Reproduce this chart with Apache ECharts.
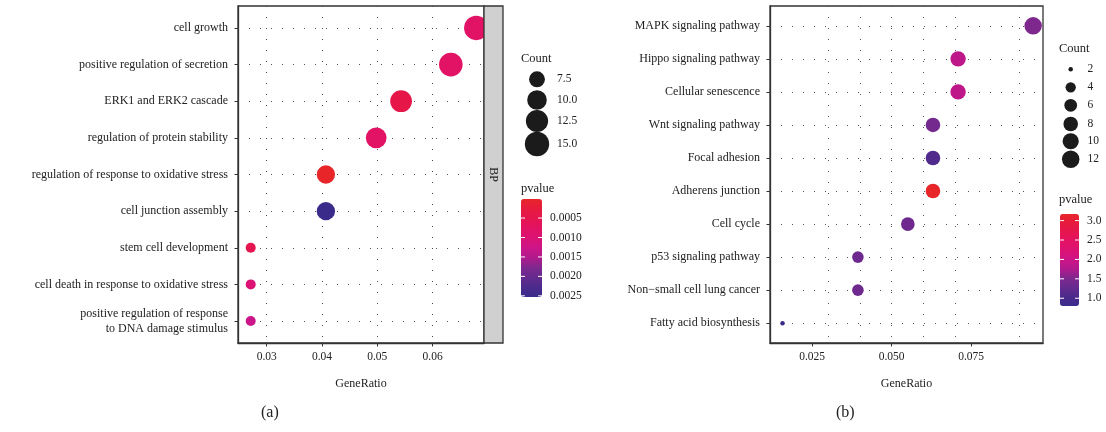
<!DOCTYPE html>
<html>
<head>
<meta charset="utf-8">
<script src="https://cdn.jsdelivr.net/npm/echarts@6/dist/echarts.min.js"></script>
<style>html,body{margin:0;padding:0;background:#fff}#c{width:1106px;height:432px}</style>
</head>
<body>
<div id="c"></div>
<script>
// ---------- data ----------
const leftTerms = ['cell growth','positive regulation of secretion','ERK1 and ERK2 cascade','regulation of protein stability','regulation of response to oxidative stress','cell junction assembly','stem cell development','cell death in response to oxidative stress','positive regulation of response\nto DNA damage stimulus'];
const leftRatio = [0.0679,0.0633,0.0543,0.0498,0.0407,0.0407,0.0271,0.0271,0.0271];
const leftCount = [15,14,12,11,9,9,6,6,6];
const leftP = [0.00077,0.00077,0.0004,0.00077,0.00001,0.00253,0.0005,0.0010,0.00127];

const rightTerms = ['MAPK signaling pathway','Hippo signaling pathway','Cellular senescence','Wnt signaling pathway','Focal adhesion','Adherens junction','Cell cycle','p53 signaling pathway','Non\u2212small cell lung cancer','Fatty acid biosynthesis'];
const rightRatio = [0.0945,0.0709,0.0709,0.0630,0.0630,0.0630,0.0551,0.0394,0.0394,0.0157];
const rightCount = [12,9,9,8,8,8,7,5,5,2];
const rightP = [1.51,1.87,1.87,1.42,1.08,3.17,1.37,1.35,1.35,0.8];

const leftXMajor = [0.03,0.04,0.05,0.06];
const leftXMinor = [0.025,0.035,0.045,0.055,0.065];
const rightXMajor = [0.025,0.05,0.075];
const rightXMinor = [0.0125,0.0375,0.0625,0.0875];
const leftSizeBreaks = [7.5,10,12.5,15];
const leftSizeLabels = ['7.5','10.0','12.5','15.0'];
const rightSizeBreaks = [2,4,6,8,10,12];
const rightSizeLabels = ['2','4','6','8','10','12'];
const leftPBreaks = [0.0005,0.0010,0.0015,0.0020,0.0025];
const rightPBreaks = [3.0,2.5,2.0,1.5,1.0];

// ---------- styling ----------
const FONT = 'Liberation Serif';
const TXT = '#222';
const gradRedToBlue = ['#E8262A','#E71A3E','#E51550','#E21264','#DB1275','#CC1588','#B01A8C','#7E288E','#652A8E','#4B2B8C','#3A2B8A'];

const L = {left:238, top:6, width:246, height:337};
const R = {left:770, top:6, width:273, height:337};

function sizeScale(cmin, cmax, r0, r1){
  return v => r0 + (r1 - r0) * Math.sqrt(Math.max(0,(v - cmin)) / (cmax - cmin));
}
const leftSize = sizeScale(6, 15, 10, 24.4);
const rightSize = sizeScale(2, 12, 4.5, 17.5);

const leftPMin = Math.min(...leftP), leftPMax = Math.max(...leftP);
const rightPMin = Math.min(...rightP), rightPMax = Math.max(...rightP);

const dotLine = {color:'#444', width:1, type:[1,10], opacity:0.9};

function gridLines(xMajor, xMinor, n){
  const d = [];
  xMajor.concat(xMinor).forEach(v => d.push({xAxis:v}));
  for (let i=1;i<=n;i++) d.push({yAxis:i});
  return d;
}

const xAxisCommon = {
  type:'value',
  axisLine:{show:true, lineStyle:{color:'#333', width:1.3}},
  axisTick:{show:true, length:3.5, lineStyle:{color:'#333'}},
  splitLine:{show:false},
  nameLocation:'middle', nameGap:35,
  nameTextStyle:{fontFamily:FONT, fontSize:12, color:TXT}
};
const yAxisCommon = {
  type:'value', inverse:true,
  axisLine:{show:true, lineStyle:{color:'#333', width:1.3}},
  axisTick:{show:true, length:3.5, lineStyle:{color:'#333'}},
  splitLine:{show:false}
};

const series = [];
series.push({
  type:'scatter', name:'leftPts', xAxisIndex:0, yAxisIndex:0, z:5,
  data: leftTerms.map((t,i)=>[leftRatio[i], i+1, leftCount[i], leftP[i]]),
  symbolSize: d => leftSize(d[2]),
  itemStyle:{opacity:1},
  encode:{x:0,y:1}
});
series.push({
  type:'scatter', name:'rightPts', xAxisIndex:1, yAxisIndex:1, z:5,
  data: rightTerms.map((t,i)=>[rightRatio[i], i+1, rightCount[i], rightP[i]]),
  symbolSize: d => rightSize(d[2]),
  itemStyle:{opacity:1},
  encode:{x:0,y:1}
});
series.push({
  type:'line', name:'gridL', xAxisIndex:0, yAxisIndex:0, data:[], z:1, silent:true,
  markLine:{silent:true, symbol:['none','none'], label:{show:false}, lineStyle:dotLine, animation:false,
    data: gridLines(leftXMajor, leftXMinor, leftTerms.length)}
});
series.push({
  type:'line', name:'gridR', xAxisIndex:1, yAxisIndex:1, data:[], z:1, silent:true,
  markLine:{silent:true, symbol:['none','none'], label:{show:false}, lineStyle:dotLine, animation:false,
    data: gridLines(rightXMajor, rightXMinor, rightTerms.length)}
});

const graphics = [];
// size legends (one legend per break; labels as text at fixed column)
const legends = [];
function addSizeLegends(breaks, labels, sizeFn, cx, cys, textX, axisIdx){
  breaks.forEach((b,i)=>{
    const nm = 'size' + axisIdx + '_' + i;
    const d = sizeFn(b);
    series.push({type:'scatter', name:nm, xAxisIndex:axisIdx, yAxisIndex:axisIdx, data:[], itemStyle:{color:'#1b1b1b', opacity:1}});
    legends.push({
      show:true, selectedMode:false, orient:'vertical', padding:0,
      left: cx - d/2, top: cys[i] - d/2,
      itemWidth: d, itemHeight: d, itemGap:0,
      data:[{name:nm, icon:'circle'}],
      formatter: () => '',
      textStyle:{fontSize:1}
    });
    graphics.push({type:'text', silent:true, x:textX, y:cys[i],
      style:{text:labels[i], fontFamily:FONT, fontSize:11.5, fill:TXT, verticalAlign:'middle', align:'left'}});
  });
}
addSizeLegends(leftSizeBreaks, leftSizeLabels, leftSize, 537, [79.3,100,121,144], 557, 0);
addSizeLegends(rightSizeBreaks, rightSizeLabels, rightSize, 1070.7, [69.3,87.3,105.3,124,141.3,159.3], 1087.5, 1);

// color bars
const LB = {left:521, top:199, w:21, h:98};
const RB = {left:1060, top:214, w:19, h:92};

function barTicks(B, breaks, vmin, vmax, inverse, fmt){
  breaks.forEach(v=>{
    const f = (v - vmin)/(vmax - vmin);
    const y = inverse ? B.top + f*B.h : B.top + (1-f)*B.h;
    graphics.push({type:'line', silent:true, z:100, shape:{x1:B.left, y1:y, x2:B.left+4, y2:y}, style:{stroke:'#fff', lineWidth:1}});
    graphics.push({type:'line', silent:true, z:100, shape:{x1:B.left+B.w-4, y1:y, x2:B.left+B.w, y2:y}, style:{stroke:'#fff', lineWidth:1}});
    graphics.push({type:'text', silent:true, z:100, x:B.left+B.w+8, y:y,
      style:{text:fmt(v), fontFamily:FONT, fontSize:11.5, fill:TXT, verticalAlign:'middle', align:'left'}});
  });
}
barTicks(LB, leftPBreaks, leftPMin, leftPMax, true, v=>v.toFixed(4));
barTicks(RB, rightPBreaks, rightPMin, rightPMax, false, v=>v.toFixed(1));

// strip "BP"
graphics.push({type:'rect', silent:true, z:10, shape:{x:L.left+L.width, y:L.top, width:19, height:L.height},
  style:{fill:'#D0D0D0', stroke:'#333', lineWidth:1.3}});
graphics.push({type:'text', silent:true, z:11, x:L.left+L.width+9.5, y:L.top+L.height/2, rotation:-Math.PI/2,
  style:{text:'BP', fontFamily:FONT, fontSize:12, fill:TXT, align:'center', verticalAlign:'middle'}});

const titleStyle = {fontFamily:FONT, fontSize:12.5, color:TXT, fontWeight:'normal'};
const option = {
  animation:false,
  backgroundColor:'#fff',
  title:[
    {text:'Count', left:521, top:52, padding:0, textStyle:titleStyle},
    {text:'pvalue', left:521, top:182, padding:0, textStyle:titleStyle},
    {text:'Count', left:1059, top:42, padding:0, textStyle:titleStyle},
    {text:'pvalue', left:1059, top:193, padding:0, textStyle:titleStyle},
    {text:'(a)', left:261, top:405, padding:0, textStyle:{fontFamily:FONT, fontSize:16, color:TXT, fontWeight:'normal'}},
    {text:'(b)', left:836, top:405, padding:0, textStyle:{fontFamily:FONT, fontSize:16, color:TXT, fontWeight:'normal'}}
  ],
  grid:[
    {left:L.left, top:L.top, width:L.width, height:L.height, show:true, borderColor:'#333', borderWidth:1.3, backgroundColor:'#fff'},
    {left:R.left, top:R.top, width:R.width, height:R.height, show:true, borderColor:'#333', borderWidth:1.3, backgroundColor:'#fff'}
  ],
  xAxis:[
    Object.assign({}, xAxisCommon, {gridIndex:0, min:0.0248, max:0.0693, name:'GeneRatio',
      axisTick:Object.assign({}, xAxisCommon.axisTick, {customValues:leftXMajor}),
      axisLabel:{customValues:leftXMajor, formatter:v=>v.toFixed(2), margin:8, fontFamily:FONT, fontSize:11.5, color:TXT}}),
    Object.assign({}, xAxisCommon, {gridIndex:1, min:0.01176, max:0.0976, name:'GeneRatio',
      axisTick:Object.assign({}, xAxisCommon.axisTick, {customValues:rightXMajor}),
      axisLabel:{customValues:rightXMajor, formatter:v=>v.toFixed(3), margin:8, fontFamily:FONT, fontSize:11.5, color:TXT}})
  ],
  yAxis:[
    Object.assign({}, yAxisCommon, {gridIndex:0, min:0.4, max:leftTerms.length+0.6,
      axisTick:Object.assign({}, yAxisCommon.axisTick, {customValues:leftTerms.map((t,i)=>i+1)}),
      axisLabel:{customValues:leftTerms.map((t,i)=>i+1), formatter:v=>leftTerms[Math.round(v)-1]||'', margin:10,
        fontFamily:FONT, fontSize:12, color:TXT, lineHeight:15, align:'right'}}),
    Object.assign({}, yAxisCommon, {gridIndex:1, min:0.4, max:rightTerms.length+0.6,
      axisTick:Object.assign({}, yAxisCommon.axisTick, {customValues:rightTerms.map((t,i)=>i+1)}),
      axisLabel:{customValues:rightTerms.map((t,i)=>i+1), formatter:v=>rightTerms[Math.round(v)-1]||'', margin:10,
        fontFamily:FONT, fontSize:12, color:TXT, align:'right'}})
  ],
  visualMap:[
    {type:'continuous', seriesIndex:0, dimension:3, min:leftPMin, max:leftPMax, inverse:true,
     left:LB.left, top:LB.top, itemWidth:LB.w, itemHeight:LB.h, padding:0, calculable:false, text:null, showLabel:false,
     inRange:{color:gradRedToBlue}},
    {type:'continuous', seriesIndex:1, dimension:3, min:rightPMin, max:rightPMax,
     left:RB.left, top:RB.top, itemWidth:RB.w, itemHeight:RB.h, padding:0, calculable:false, text:null, showLabel:false,
     inRange:{color:gradRedToBlue.slice().reverse()}}
  ],
  legend: legends,
  graphic: graphics,
  series: series
};

const chart = echarts.init(document.getElementById('c'), null, {renderer:'canvas'});
chart.setOption(option);
</script>
</body>
</html>
